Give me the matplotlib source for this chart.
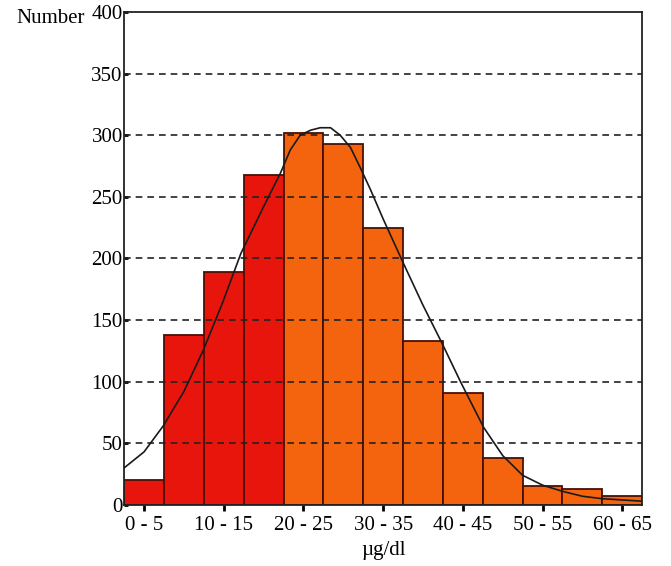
import matplotlib
matplotlib.use('Agg')
import matplotlib.pyplot as plt
import numpy as np

# class intervals (µg/dl) and counts
bins = ['0 - 5', '5 - 10', '10 - 15', '15 - 20', '20 - 25', '25 - 30', '30 - 35',
        '35 - 40', '40 - 45', '45 - 50', '50 - 55', '55 - 60', '60 - 65']
counts = [20, 138, 189, 268, 302, 293, 225, 133, 91, 38, 15, 13, 7]
n_red = 4  # first four classes are drawn in red

# fitted curve, points (x in µg/dl)
curve_x = [0, 2.5, 4.9, 7.5, 9.9, 12.35, 14.65, 17.5, 19.6, 20.85, 22.1, 23.4,
           24.6, 25.9, 27.1, 28.4, 29.6, 30.9, 32.5, 34.9, 37.5, 39.9, 42.2,
           45.1, 47.5, 50, 52.5, 55, 57.5, 60, 62.5, 65]
curve_y = [30, 43, 64, 92, 125, 164, 204, 242, 269, 288, 300, 304,
           306, 306, 300, 290, 274, 256, 232, 198, 162, 131, 100,
           63, 40, 24, 16, 11, 7, 5, 4, 3]

plt.rcParams['font.family'] = ['Liberation Serif', 'DejaVu Serif']

fig = plt.figure(figsize=(6.71, 5.66), dpi=100)
ax = fig.add_axes([0.185, 0.108, 0.772, 0.871])

red = '#e8150d'
orange = '#f4640f'
colors = [red if i < n_red else orange for i in range(len(counts))]
lefts = np.arange(len(counts)) * 5
ax.bar(lefts, counts, width=5, align='edge', color=colors,
       edgecolor='#4a0f06', linewidth=1.3, zorder=1)

for v in range(50, 400, 50):
    ax.axhline(v, color='#222222', linestyle=(0, (4, 3)), linewidth=1.2, zorder=2)

ax.plot(curve_x, curve_y, color='#1a1a1a', linewidth=1.2, zorder=3)

ax.set_xlim(0, 65)
ax.set_ylim(0, 400)
ax.set_yticks(range(0, 401, 50))
ax.set_yticklabels([str(v) for v in range(0, 401, 50)], fontsize=15)
ax.set_xticks(lefts[::2] + 2.5)
ax.set_xticklabels(bins[::2], fontsize=15)
ax.tick_params(axis='y', length=3, width=2, pad=1, direction='in')
ax.tick_params(axis='x', length=4, width=2, pad=4, direction='out')

for s in ax.spines.values():
    s.set_linewidth(1.3)
    s.set_color('#222222')

ax.set_xlabel('µg/dl', fontsize=15, labelpad=4)
ax.text(-0.075, 1.005, 'Number', transform=ax.transAxes, fontsize=15,
        ha='right', va='top')

fig.savefig('out.png', dpi=100)
